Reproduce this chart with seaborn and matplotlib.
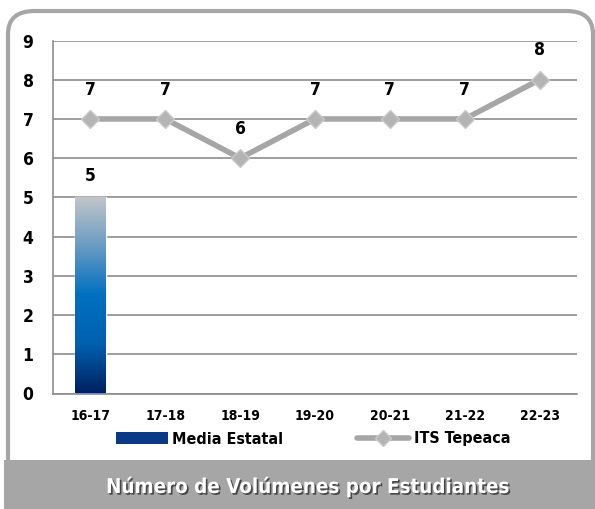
import numpy as np
import pandas as pd
import matplotlib
matplotlib.use("Agg")
import matplotlib.pyplot as plt
import seaborn as sns
from matplotlib.patches import FancyBboxPatch, Rectangle
from matplotlib.colors import LinearSegmentedColormap
from matplotlib.lines import Line2D
import matplotlib.patheffects as pe

periods = ["16-17", "17-18", "18-19", "19-20", "20-21", "21-22", "22-23"]
media_estatal = [5, None, None, None, None, None, None]
its_tepeaca = [7, 7, 6, 7, 7, 7, 8]
y_ticks = [0, 1, 2, 3, 4, 5, 6, 7, 8, 9]
title = "Número de Volúmenes por Estudiantes"

sns.set_theme(style="white")
plt.rcParams["font.family"] = ["DejaVu Sans"]
plt.rcParams["font.stretch"] = "condensed"
plt.rcParams["font.weight"] = "bold"
plt.rcParams["text.color"] = "black"
plt.rcParams["xtick.color"] = "black"
plt.rcParams["ytick.color"] = "black"

GRAY = "#a6a6a6"
fig = plt.figure(figsize=(5.95, 5.09), dpi=100)

# rounded frame, its lower part hidden under the title banner
frame = FancyBboxPatch((8 / 595, 15 / 509), 585 / 595, 483 / 509,
                       boxstyle="round,pad=0,rounding_size=0.045",
                       transform=fig.transFigure, fill=False, edgecolor=GRAY,
                       linewidth=3, zorder=0)
fig.patches.append(frame)
banner = Rectangle((4 / 595, 0), 1, 49 / 509, transform=fig.transFigure,
                   facecolor=GRAY, edgecolor="none", zorder=1)
fig.patches.append(banner)
fig.text(307 / 595, 1 - 487 / 509, title, ha="center", va="center", color="white",
         fontsize=14.7, fontweight="bold",
         path_effects=[pe.withSimplePatchShadow(offset=(1.2, -1.2), shadow_rgbFace="#303030", alpha=0.8)])

ax = fig.add_axes([53 / 595, 1 - 393.5 / 509, 524 / 595, 353 / 509])
ax.set_facecolor("none")

x = np.arange(len(periods))
df = pd.DataFrame({"periodo": periods, "media": media_estatal, "its": its_tepeaca})

# gradient-filled bar for the state average
sns.barplot(data=df, x="periodo", y="media", ax=ax, width=0.41,
            color="#0070c0", saturation=1, zorder=2)
cmap = LinearSegmentedColormap.from_list(
    "blue_grad", ["#002060", "#0060b0", "#0070c0", "#6a9cc4", "#c3c6ca"])
grad = np.linspace(0, 1, 256).reshape(-1, 1)
for patch in ax.patches:
    h = patch.get_height()
    if not np.isfinite(h) or h <= 0:
        continue
    x0 = patch.get_x()
    w = patch.get_width()
    im = ax.imshow(grad, cmap=cmap, origin="lower", aspect="auto",
                   extent=(x0, x0 + w, 0, h), zorder=2.5)
    im.set_clip_path(patch)
    ax.text(x0 + w / 2, h + 0.55, f"{h:g}", ha="center", va="center",
            fontsize=12.5, fontweight="bold", color="black")

# line for ITS Tepeaca
sns.lineplot(x=x, y=its_tepeaca, ax=ax, color=GRAY, linewidth=4,
             marker="D", markersize=9, markerfacecolor="#b4b4b4",
             markeredgecolor="#cacaca", markeredgewidth=1, zorder=4)
for xi, v in zip(x, its_tepeaca):
    ax.text(xi, v + 0.75, f"{v}", ha="center", va="center",
            fontsize=12.5, fontweight="bold", color="black")

ax.set_xlim(-0.5, len(periods) - 0.5)
ax.set_ylim(0, 9)
ax.set_yticks(y_ticks)
ax.set_yticklabels([str(t) for t in y_ticks], fontsize=12.5, fontweight="bold")
ax.set_xticks(x)
ax.set_xticklabels(periods, fontsize=10, fontweight="bold")
ax.set_xticks(np.arange(len(periods) + 1) - 0.5, minor=True)
ax.tick_params(axis="x", which="major", length=0, pad=11)
ax.tick_params(axis="x", which="minor", length=4, color="#808080", width=1, direction="out")
ax.tick_params(axis="y", length=5, color="#808080", width=1, direction="out", pad=9)
ax.grid(axis="y", color="#8c8c8c", linewidth=1.2)
ax.set_axisbelow(True)
for side in ["top", "right"]:
    ax.spines[side].set_visible(False)
for side in ["left", "bottom"]:
    ax.spines[side].set_color("#8c8c8c")
    ax.spines[side].set_linewidth(1.2)
ax.set_xlabel("")
ax.set_ylabel("")

# legend
handles = [
    Rectangle((0, 0), 1, 1, facecolor="#0a3a85", edgecolor="none"),
    Line2D([0], [0], color=GRAY, linewidth=4, marker="D", markersize=8,
           markerfacecolor="#b4b4b4", markeredgecolor="#cacaca"),
]
fig.legend(handles, ["Media Estatal", "ITS Tepeaca"], loc="center",
           bbox_to_anchor=(313 / 595, 1 - 439 / 509), ncol=2, frameon=False,
           prop={"weight": "bold", "size": 11.5}, handlelength=3.25,
           handleheight=0.7, columnspacing=4.6, handletextpad=0.3)

fig.savefig("out.png", dpi=100)
